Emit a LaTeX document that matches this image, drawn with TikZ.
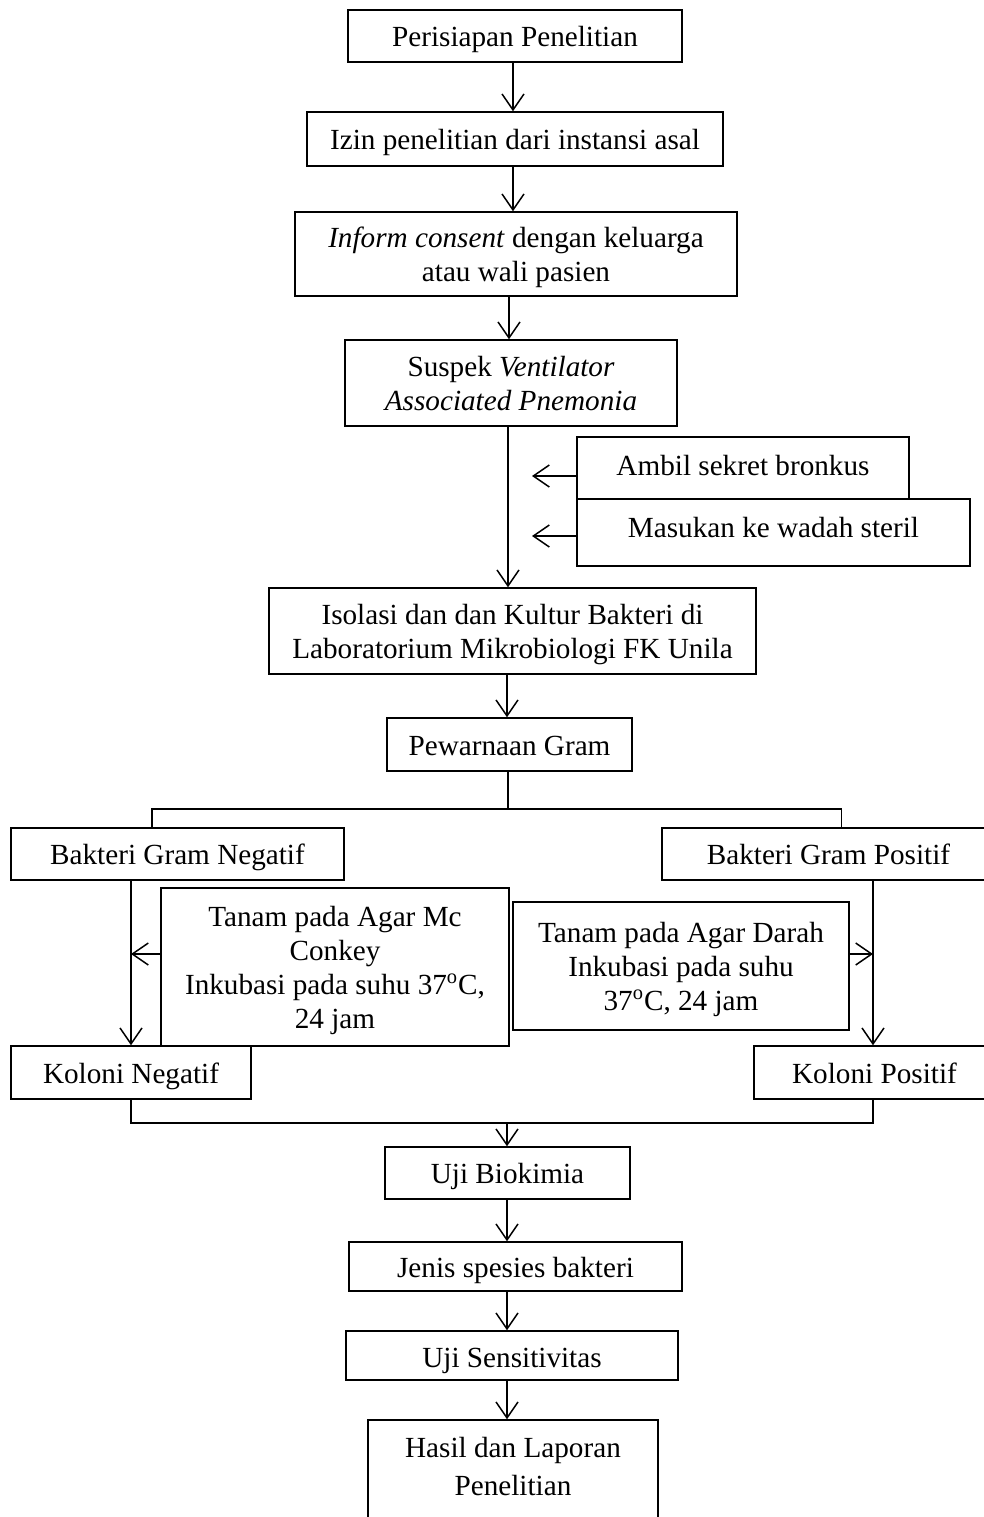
\documentclass[tikz,border=0pt]{standalone}
\usepackage{fontspec}
\setmainfont{Liberation Serif}
\usetikzlibrary{arrows.meta,calc}
\tikzset{
  box/.style={draw, line width=0.75pt, inner sep=0pt, align=center, font=\fontsize{14.6}{17}\selectfont},
  one/.style={box, text height=10.5pt, text depth=0pt},
  multi/.style={box, text depth=0pt},
  arr/.style={line width=0.75pt, -{Straight Barb[length=8pt,width=11pt,line width=0.75pt]}},
  ln/.style={line width=0.75pt}
}
\begin{document}
\begin{tikzpicture}[x=0.5pt,y=-0.5pt]
\useasboundingbox (0,0) rectangle (984,1517);
\node[one, minimum width=167pt, minimum height=26pt] (per) at (515,36) {Perisiapan Penelitian};
\node[one, minimum width=208pt, minimum height=27pt] (izin) at (515,139) {Izin penelitian dari instansi asal};
\node[multi, minimum width=221pt, minimum height=42pt] (inf) at (516,254) {\textit{Inform consent} dengan keluarga\\atau wali pasien};
\node[multi, minimum width=166pt, minimum height=43pt] (sus) at (511,383) {Suspek \textit{Ventilator}\\\textit{Associated Pnemonia}};
\node[one, text height=10pt, text depth=3pt, minimum width=166pt, minimum height=31pt] (amb) at (743,468) {Ambil sekret bronkus};
\node[one, text height=10pt, text depth=5.5pt, minimum width=196.5pt, minimum height=33.5pt] (mas) at (773.5,532.5) {Masukan ke wadah steril};
\node[multi, minimum width=243.5pt, minimum height=43pt] (iso) at (512.5,631) {Isolasi dan dan Kultur Bakteri di\\Laboratorium Mikrobiologi FK Unila};
\node[one, minimum width=122.5pt, minimum height=26.5pt] (pew) at (509.5,744.5) {Pewarnaan Gram};
\node[one, minimum width=166.5pt, minimum height=26pt] (bneg) at (177.5,854) {Bakteri Gram Negatif};
\node[one, minimum width=166.5pt, minimum height=26pt] (bpos) at (828.5,854) {Bakteri Gram Positif};
\node[multi, minimum width=174pt, minimum height=79pt] (tmc) at (335,967) {Tanam pada Agar Mc\\Conkey\\Inkubasi pada suhu 37\textsuperscript{o}C,\\24 jam};
\node[multi, minimum width=168pt, minimum height=64pt] (tdr) at (681,966) {Tanam pada Agar Darah\\Inkubasi pada suhu\\37\textsuperscript{o}C, 24 jam};
\node[one, minimum width=120pt, minimum height=26.5pt] (kneg) at (131,1072.5) {Koloni Negatif};
\node[one, minimum width=120.5pt, minimum height=26.5pt] (kpos) at (874.5,1072.5) {Koloni Positif};
\node[one, minimum width=122.5pt, minimum height=26pt] (uji) at (507.5,1173) {Uji Biokimia};
\node[one, text height=11pt, minimum width=166.5pt, minimum height=24.5pt] (jen) at (515.5,1266.5) {Jenis spesies bakteri};
\node[one, text height=11.5pt, minimum width=166pt, minimum height=24.5pt] (sen) at (512,1355.5) {Uji Sensitivitas};
\node[box, text depth=9pt, minimum width=145pt, minimum height=55pt] (has) at (513,1475) {Hasil dan Laporan\\[2pt]Penelitian};

\coordinate (a1) at (532,476);
\coordinate (a2) at (532,536);
\coordinate (bl) at (152,809);
\coordinate (br) at (841.5,809);
\coordinate (l1) at (131,954);
\coordinate (l2) at (873,954);
\coordinate (mg) at (507,1123);

\draw[arr] (per.south -| 513,0) -- (izin.north -| 513,0);
\draw[arr] (izin.south -| 513,0) -- (inf.north -| 513,0);
\draw[arr] (inf.south -| 509,0) -- (sus.north -| 509,0);
\draw[arr] (sus.south -| 508,0) -- (iso.north -| 508,0);
\draw[arr] (amb.west |- a1) -- (a1);
\draw[arr] (mas.west |- a2) -- (a2);
\draw[arr] (iso.south -| 507,0) -- (pew.north -| 507,0);
\draw[ln] (pew.south -| 508,0) -- (bl -| 508,0);
\draw[ln] (bl |- bneg.north) -- (bl) -- (br) -- (br |- bpos.north);
\draw[arr] (l1 |- bneg.south) -- (l1 |- kneg.north);
\draw[arr] (l2 |- bpos.south) -- (l2 |- kpos.north);
\draw[arr] (tmc.west |- l1) -- (l1);
\draw[arr] (tdr.east |- l2) -- (l2);
\draw[ln] (l1 |- kneg.south) -- (l1 |- mg) -- (l2 |- mg) -- (l2 |- kpos.south);
\draw[arr] (mg) -- (mg |- uji.north);
\draw[arr] (uji.south -| 507,0) -- (jen.north -| 507,0);
\draw[arr] (jen.south -| 507,0) -- (sen.north -| 507,0);
\draw[arr] (sen.south -| 507,0) -- (has.north -| 507,0);
\end{tikzpicture}
\end{document}
